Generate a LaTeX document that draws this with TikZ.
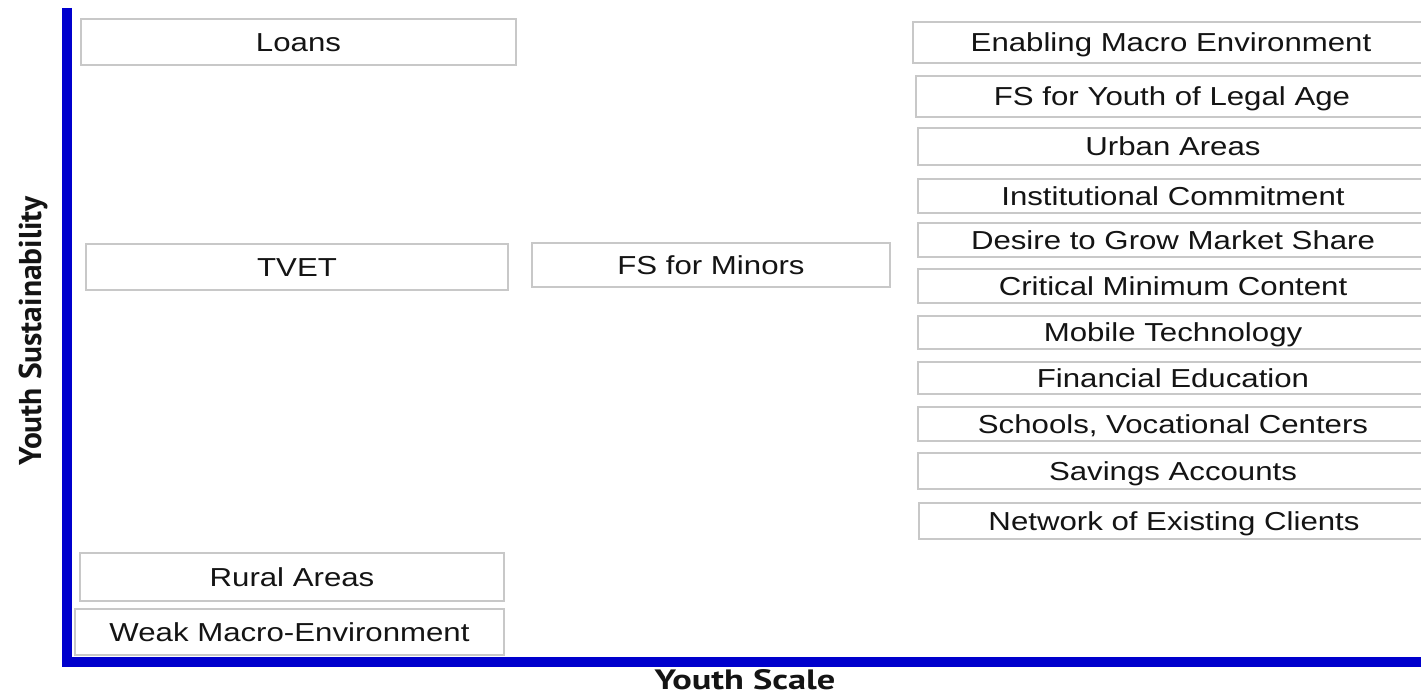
\documentclass[tikz,border=0pt]{standalone}
\usepackage{fontspec}
\setmainfont[FakeStretch=1.2]{Liberation Sans}
\newfontfamily\axfont{PT Sans}
\newfontfamily\axfontwide[FakeStretch=1.3]{PT Sans}
\definecolor{axisblue}{RGB}{0,0,205}
\definecolor{boxgray}{RGB}{200,200,200}
\definecolor{txt}{RGB}{20,20,20}
\begin{document}
\begin{tikzpicture}[x=1pt,y=-1pt,
  box/.style={draw=boxgray,line width=2pt,fill=white,inner sep=0pt,text=txt,
    text height=18.6pt,text depth=0pt,
    font=\fontsize{26}{30}\selectfont},
  axislabel/.style={text=txt,inner sep=0pt}]
\useasboundingbox (0,0) rectangle (1421,695);
\clip (0,0) rectangle (1421,695);
% axes
\coordinate (top) at (67,8);
\coordinate (origin) at (67,662);
\coordinate (right) at (1440,662);
\draw[axisblue,line width=10pt,line join=miter] (top) -- (origin) -- (right);
% left column
\node[box,minimum width=435pt,minimum height=46pt] (loans) at (298.5,42) {Loans};
\node[box,minimum width=422pt,minimum height=46pt] (tvet) at (297,267) {TVET};
\node[box,minimum width=358pt,minimum height=44pt] (minors) at (711,265) {FS for Minors};
\node[box,minimum width=424pt,minimum height=48pt] (rural) at (292,577) {Rural Areas};
\node[box,minimum width=429pt,minimum height=46pt] (weak) at (289.5,632) {Weak Macro-Environment};
% right column (boxes run past the right edge)
\node[box,minimum width=516pt,minimum height=41pt] (enab) at (1171,42.5) {Enabling Macro Environment};
\node[box,minimum width=512pt,minimum height=41pt] (legal) at (1172,96.5) {FS for Youth of Legal Age};
\node[box,minimum width=510pt,minimum height=37pt] (urban) at (1173,146.5) {Urban Areas};
\node[box,minimum width=510pt,minimum height=34pt] (inst) at (1173,196) {Institutional Commitment};
\node[box,minimum width=510pt,minimum height=34pt] (desire) at (1173,240) {Desire to Grow Market Share};
\node[box,minimum width=510pt,minimum height=34pt] (crit) at (1173,286) {Critical Minimum Content};
\node[box,minimum width=510pt,minimum height=33pt] (mobile) at (1173,332.5) {Mobile Technology};
\node[box,minimum width=510pt,minimum height=32pt] (fined) at (1173,378) {Financial Education};
\node[box,minimum width=510pt,minimum height=34pt] (schools) at (1173,424) {Schools, Vocational Centers};
\node[box,minimum width=510pt,minimum height=36pt] (savings) at (1173,471) {Savings Accounts};
\node[box,minimum width=510pt,minimum height=36pt] (network) at (1174,521) {Network of Existing Clients};
% axis labels
\node[axislabel,rotate=90,font=\axfont\bfseries\fontsize{31.5}{36}\selectfont] (ylab) at (33,331) {Youth Sustainability};
\node[axislabel,font=\axfontwide\bfseries\fontsize{28}{32}\selectfont] (xlab) at (745,680) {Youth Scale};
\end{tikzpicture}
\end{document}
